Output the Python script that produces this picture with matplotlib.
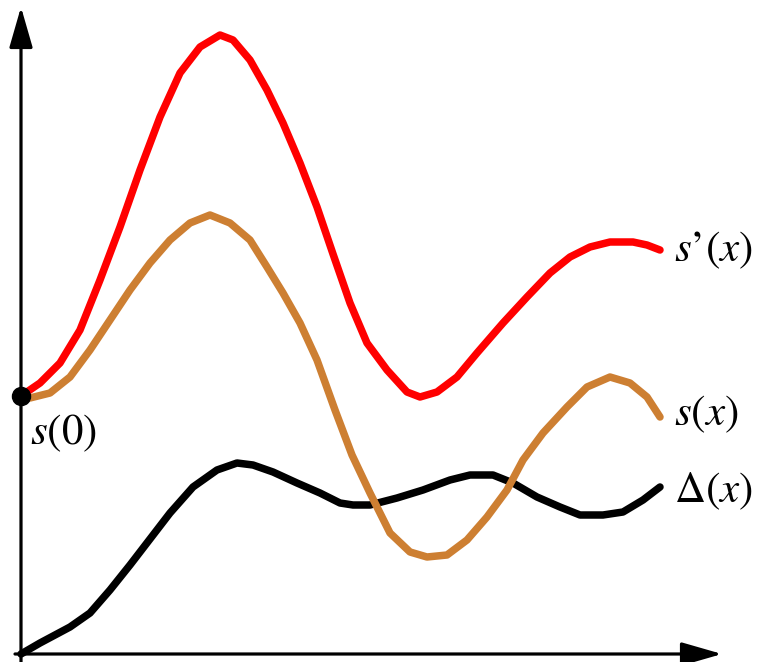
import matplotlib
matplotlib.use("Agg")
import matplotlib.pyplot as plt

plt.rcParams['font.family'] = ['STIXGeneral', 'DejaVu Serif']
plt.rcParams['mathtext.fontset'] = 'stix'

# Curves (x to the right, y upward, origin at axes corner)
sprime_x = [0, 19, 39, 59, 79, 99, 119, 139, 159, 179, 199, 212, 229, 246, 262, 279,
            296, 312, 329, 346, 366, 386, 399, 416, 436, 456, 482, 506, 529, 549,
            569, 589, 612, 626, 639]
sprime_y = [258, 271, 291, 324, 374, 427, 484, 537, 581, 607, 619, 614, 594, 564,
            531, 491, 447, 400, 351, 311, 284, 262, 257, 262, 277, 301, 331, 357,
            381, 397, 407, 412, 412, 409, 404]

s_x = [0, 9, 29, 49, 69, 89, 109, 129, 149, 169, 189, 209, 229, 246, 262, 279, 296,
       314, 331, 349, 369, 389, 406, 426, 446, 466, 486, 502, 522, 546, 566, 589,
       609, 626, 639]
s_y = [258, 256, 261, 277, 304, 334, 364, 391, 414, 431, 439, 431, 414, 387, 361,
       331, 294, 244, 199, 161, 121, 102, 97, 99, 114, 137, 164, 194, 221, 247, 267,
       277, 271, 257, 237]

d_x = [0, 19, 49, 69, 89, 109, 129, 149, 172, 196, 216, 232, 252, 276, 299, 319, 332,
       349, 376, 402, 429, 449, 472, 492, 516, 539, 559, 582, 602, 622, 639]
d_y = [0, 11, 27, 41, 64, 89, 115, 141, 167, 184, 191, 189, 182, 171, 161, 151, 149,
       149, 156, 164, 174, 179, 179, 171, 157, 147, 139, 139, 142, 154, 167]

s0 = 258

fig = plt.figure(figsize=(7.64, 6.62), dpi=100)
ax = fig.add_axes([0, 0, 1, 1])
ax.set_xlim(-21, 743)
ax.set_ylim(-8, 654)
ax.axis('off')

# axes with arrows
arrow_style = '-|>,head_length=1.25,head_width=0.36'
ax.annotate('', xy=(0, 647), xytext=(0, -8),
            arrowprops=dict(arrowstyle=arrow_style, lw=2.3, color='black',
                            mutation_scale=20, shrinkA=0, shrinkB=0))
ax.annotate('', xy=(701, 0), xytext=(-6, 0),
            arrowprops=dict(arrowstyle=arrow_style, lw=2.3, color='black',
                            mutation_scale=20, shrinkA=0, shrinkB=0))

kw = dict(lw=5.4, solid_capstyle='round', solid_joinstyle='round')
ax.plot(d_x, d_y, color='black', **kw)
ax.plot(s_x, s_y, color='#cd7f32', **kw)
ax.plot(sprime_x, sprime_y, color='#ff0000', **kw)

ax.plot([0], [s0], 'o', color='black', markersize=13, zorder=5)

fs = 31
ax.text(653, 404, '$s$\u2019$(x)$', fontsize=fs, va='center', ha='left')
ax.text(653, 240, '$s(x)$', fontsize=fs, va='center', ha='left')
ax.text(653, 163, '$\\Delta(x)$', fontsize=fs, va='center', ha='left')
ax.text(9, 221, '$s(0)$', fontsize=fs, va='center', ha='left')

fig.savefig('out.png', dpi=100)
